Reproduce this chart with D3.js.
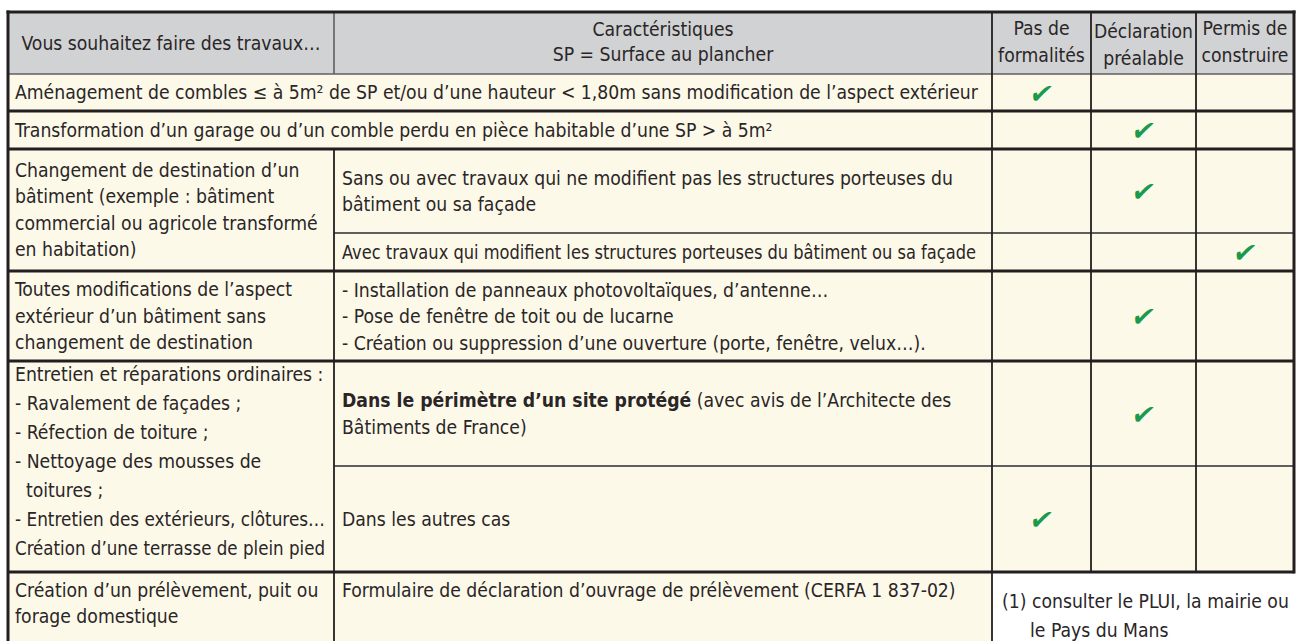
<!DOCTYPE html>
<html><head><meta charset="utf-8">
<script src="https://cdn.jsdelivr.net/npm/d3@7"></script>
<style>
html,body{margin:0;padding:0;background:#fff;}
svg{display:block;}
text{font-family:"Liberation Sans Narrow","DejaVu Sans Condensed",sans-serif;font-stretch:condensed;fill:#2a2627;}
</style></head>
<body>
<svg id="chart" width="1304" height="641"></svg>
<script>
// ---------- DATA ----------
const headerLabels = [
  ["Vous souhaitez faire des travaux…"],
  ["Caractéristiques", "SP = Surface au plancher"],
  ["Pas de", "formalités"],
  ["Déclaration", "préalable"],
  ["Permis de", "construire"]
];
const decisionColumns = ["Pas de formalités", "Déclaration préalable", "Permis de construire"];
const subRows = ["r1", "r2", "r3a", "r3b", "r4", "r5a", "r5b", "r6"];
const travaux = [
  ["Aménagement de combles ≤ à 5m² de SP et/ou d’une hauteur < 1,80m sans modification de l’aspect extérieur"],
  ["Transformation d’un garage ou d’un comble perdu en pièce habitable d’une SP > à 5m²"],
  ["Changement de destination d’un", "bâtiment (exemple : bâtiment", "commercial ou agricole transformé", "en habitation)"],
  ["Toutes modifications de l’aspect", "extérieur d’un bâtiment sans", "changement de destination"],
  ["Entretien et réparations ordinaires :", "- Ravalement de façades ;", "- Réfection de toiture ;", "- Nettoyage des mousses de", "\u00a0 toitures ;", "- Entretien des extérieurs, clôtures…", "Création d’une terrasse de plein pied"],
  ["Création d’un prélèvement, puit ou", "forage domestique"]
];
const travauxRows = [["r1"], ["r2"], ["r3a", "r3b"], ["r4"], ["r5a", "r5b"], ["r6"]];
const caracteristiques = [
  [["Sans ou avec travaux qui ne modifient pas les structures porteuses du"], ["bâtiment ou sa façade"]],
  [["Avec travaux qui modifient les structures porteuses du bâtiment ou sa façade"]],
  [["- Installation de panneaux photovoltaïques, d’antenne…"], ["- Pose de fenêtre de toit ou de lucarne"], ["- Création ou suppression d’une ouverture (porte, fenêtre, velux…)."]],
  [["Dans le périmètre d’un site protégé", " (avec avis de l’Architecte des"], ["Bâtiments de France)"]],
  [["Dans les autres cas"]],
  [["Formulaire de déclaration d’ouvrage de prélèvement (CERFA 1 837-02)"]]
];
const caracteristiquesRows = ["r3a", "r3b", "r4", "r5a", "r5b", "r6"];
const formalite = ["Pas de formalités", "Déclaration préalable", "Déclaration préalable", "Permis de construire",
                   "Déclaration préalable", "Déclaration préalable", "Pas de formalités", null];
const footnote = ["(1) consulter le PLUI, la mairie ou", "le Pays du Mans"];

// ---------- LAYOUT ----------
const svg = d3.select("#chart");
const FS = 19.2;
const colEdges = [8, 334, 992, 1091, 1196, 1294];
const tableTop = 12, headerBottom = 74;
const rowEdges = [74, 111, 149, 233, 271, 361, 466, 572, 665];
const yTop = d3.scaleOrdinal().domain(subRows).range(rowEdges.slice(0, -1));
const yBot = d3.scaleOrdinal().domain(subRows).range(rowEdges.slice(1));
const xL = d3.scaleOrdinal().domain(decisionColumns).range(colEdges.slice(2, 5));
const xR = d3.scaleOrdinal().domain(decisionColumns).range(colEdges.slice(3, 6));
const xC = d => (xL(d) + xR(d)) / 2;

const cream = "#fdf9e9", grey = "#d1d2d4", dark = "#231f20", thinC = "#5f5f61";

// backgrounds
svg.append("rect").attr("x", colEdges[0]).attr("y", tableTop).attr("width", colEdges[5] - colEdges[0]).attr("height", headerBottom - tableTop).attr("fill", grey);
svg.append("rect").attr("x", colEdges[0]).attr("y", headerBottom).attr("width", colEdges[5] - colEdges[0]).attr("height", yTop("r6") - headerBottom).attr("fill", cream);
svg.append("rect").attr("x", colEdges[0]).attr("y", yTop("r6")).attr("width", colEdges[2] - colEdges[0]).attr("height", 641 - yTop("r6")).attr("fill", cream);

function fit(t, maxW) {
  const w = t.node().getComputedTextLength();
  if (w > maxW) t.attr("textLength", maxW).attr("lengthAdjust", "spacingAndGlyphs");
}

// header text
const hdrY = [[43], [29, 54], [28, 55], [31, 58], [28, 55]];
headerLabels.forEach((lines, i) => {
  const cx = (colEdges[i] + colEdges[i + 1]) / 2;
  lines.forEach((l, j) => {
    const t = svg.append("text").attr("x", cx).attr("y", hdrY[i][j]).attr("text-anchor", "middle")
      .attr("dominant-baseline", "central").attr("font-size", FS).text(l);
    fit(t, colEdges[i + 1] - colEdges[i] - 6);
  });
});

function block(lines, x, cy, lh, maxW) {
  const n = lines.length;
  lines.forEach((l, j) => {
    const t = svg.append("text").attr("x", x).attr("y", cy + (j - (n - 1) / 2) * lh)
      .attr("dominant-baseline", "central").attr("font-size", FS).attr("xml:space", "preserve");
    if (Array.isArray(l)) {
      l.forEach((seg, k) => t.append("tspan").attr("font-weight", (l.length > 1 && k === 0) ? "bold" : null).text(seg));
    } else t.text(l);
    fit(t, maxW);
  });
}

// travaux column
travaux.forEach((lines, i) => {
  const rs = travauxRows[i];
  const y0 = yTop(rs[0]), y1 = yBot(rs[rs.length - 1]);
  let cy = (y0 + y1) / 2, lh = 26.5;
  if (rs[0] === "r5a") { lh = 29; cy = 461; }
  if (rs[0] === "r6") { cy = y0 + 18 + (lines.length - 1) * lh / 2; }
  const right = (rs[0] === "r1" || rs[0] === "r2") ? colEdges[2] : colEdges[1];
  block(lines, colEdges[0] + 7, cy, lh, right - colEdges[0] - 16);
});
// caracteristiques column
caracteristiques.forEach((lines, i) => {
  const r = caracteristiquesRows[i];
  let cy = (yTop(r) + yBot(r)) / 2;
  if (r === "r6") cy = yTop(r) + 18;
  block(lines, colEdges[1] + 8, cy, 26.5, colEdges[2] - colEdges[1] - 24);
});

// checks
subRows.forEach((r, i) => {
  if (!formalite[i]) return;
  const cx = xC(formalite[i]), cy = (yTop(r) + yBot(r)) / 2 + 1;
  svg.append("text").attr("x", 0).attr("y", 0)
    .attr("transform", `translate(${cx},${cy}) skewX(-12)`)
    .attr("text-anchor", "middle").attr("dominant-baseline", "central")
    .style("font-family", "DejaVu Sans").style("font-stretch", "normal")
    .attr("font-size", 27).style("fill", "#1b9a4c").text("✔");
});

// footnote
svg.append("text").attr("x", colEdges[2] + 10).attr("y", 601).attr("dominant-baseline", "central").attr("font-size", FS).text(footnote[0]);
svg.append("text").attr("x", colEdges[2] + 38).attr("y", 630).attr("dominant-baseline", "central").attr("font-size", FS).text(footnote[1]);

// ---------- LINES ----------
function hline(y, x0, x1, w, c) { svg.append("line").attr("x1", x0).attr("x2", x1).attr("y1", y).attr("y2", y).attr("stroke", c).attr("stroke-width", w); }
function vline(x, y0, y1, w, c) { svg.append("line").attr("x1", x).attr("x2", x).attr("y1", y0).attr("y2", y1).attr("stroke", c).attr("stroke-width", w); }

hline(headerBottom, colEdges[0], colEdges[5], 1.6, thinC);
const thick = ["r2", "r3a", "r4", "r5a", "r6"];
thick.forEach(r => hline(yTop(r), colEdges[0], colEdges[5], 3, dark));
["r3b", "r5b"].forEach(r => hline(yTop(r), colEdges[1], colEdges[5], 1.8, thinC));

vline(colEdges[1], tableTop, headerBottom, 1.6, thinC);
vline(colEdges[1], yTop("r3a"), 641, 1.8, dark);
vline(colEdges[2], tableTop, 641, 1.8, dark);
vline(colEdges[3], tableTop, yTop("r6"), 1.8, dark);
vline(colEdges[4], tableTop, yTop("r6"), 1.8, dark);
// outer border
vline(colEdges[0], tableTop - 1.5, 641, 3, dark);
vline(colEdges[5], tableTop - 1.5, yTop("r6") + 1.5, 3, dark);
hline(tableTop, colEdges[0] - 1.5, colEdges[5] + 1.5, 3, dark);
</script>
</body></html>
